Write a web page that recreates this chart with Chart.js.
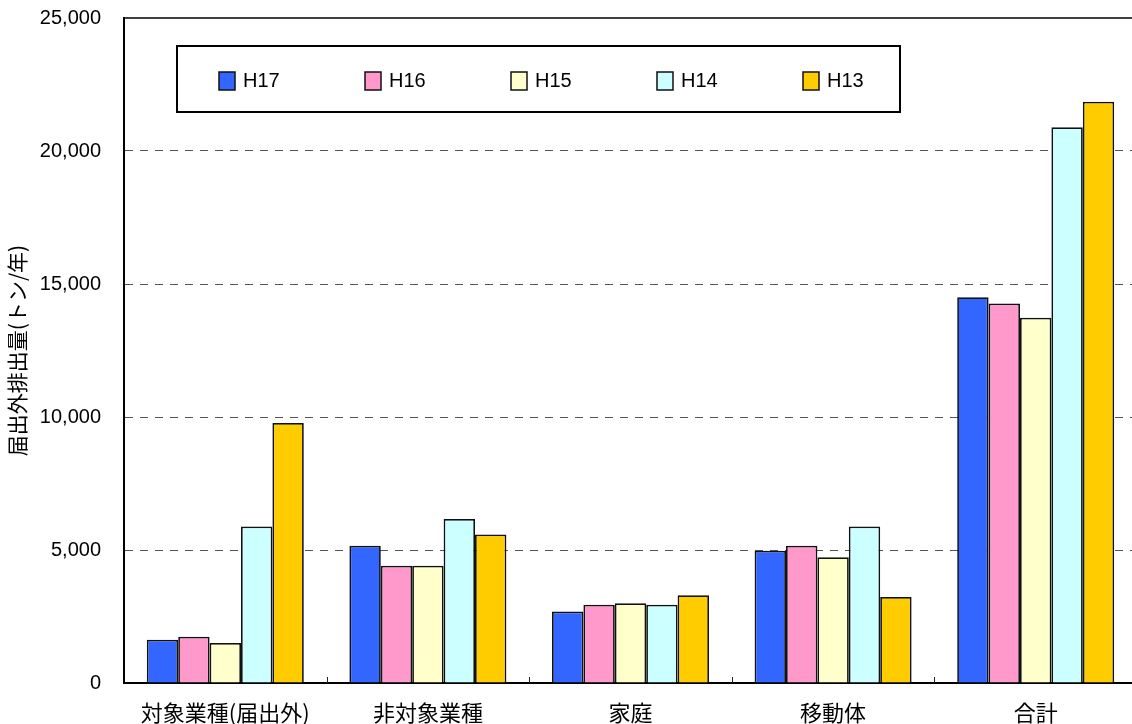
<!DOCTYPE html>
<html>
<head>
<meta charset="utf-8">
<script src="https://cdn.jsdelivr.net/npm/chart.js@4"></script>
<style>
  html, body { margin: 0; padding: 0; background: #fff; overflow: hidden; }
  canvas { display: block; }
</style>
</head>
<body>
<canvas id="c" width="1138" height="724"></canvas>
<script>
// 届出外排出量 by source category, fiscal years H13–H17 (tonnes/year)
const categories = ['対象業種(届出外)', '非対象業種', '家庭', '移動体', '合計'];
const seriesNames = ['H17', 'H16', 'H15', 'H14', 'H13'];
const seriesColors = ['#3366FF', '#FF99CC', '#FFFFCC', '#CCFFFF', '#FFCC00'];

const valuesH17 = [1630, 5160, 2690, 4970, 14500];
const valuesH16 = [1740, 4410, 2940, 5160, 14270];
const valuesH15 = [1500, 4410, 3000, 4730, 13730];
const valuesH14 = [5880, 6170, 2940, 5880, 20890];
const valuesH13 = [9770, 5580, 3300, 3230, 21850];

const yTicks = [0, 5000, 10000, 15000, 20000, 25000];
const yTitle = '届出外排出量(トン/年)';

const seriesValues = [valuesH17, valuesH16, valuesH15, valuesH14, valuesH13];

const numFont = "'Liberation Sans', Arial, sans-serif";
const jpFont = "'Noto Sans CJK JP', sans-serif";

// Boxed legend inside the plot, plus the top frame line and inner category ticks
const framePlugin = {
  id: 'frame',
  afterDraw(chart) {
    const ctx = chart.ctx;
    const area = chart.chartArea;
    const x = chart.scales.x;
    ctx.save();

    // top frame line
    ctx.strokeStyle = '#000';
    ctx.lineWidth = 1.5;
    ctx.beginPath();
    ctx.moveTo(area.left, area.top);
    ctx.lineTo(area.right, area.top);
    ctx.stroke();

    // short upward ticks at category boundaries
    ctx.lineWidth = 1;
    ctx.strokeStyle = '#222';
    for (let i = 1; i < categories.length; i++) {
      const bx = Math.round((x.getPixelForTick(i - 1) + x.getPixelForTick(i)) / 2) + 0.5;
      ctx.beginPath();
      ctx.moveTo(bx, area.bottom);
      ctx.lineTo(bx, area.bottom - 6);
      ctx.stroke();
    }

    // legend box
    const lx = 177, ly = 46, lw = 723, lh = 66;
    ctx.fillStyle = '#fff';
    ctx.fillRect(lx, ly, lw, lh);
    ctx.strokeStyle = '#000';
    ctx.lineWidth = 2;
    ctx.strokeRect(lx, ly, lw, lh);

    ctx.font = '20px ' + numFont;
    ctx.textBaseline = 'middle';
    ctx.textAlign = 'left';
    chart.data.datasets.forEach((ds, i) => {
      const bx = 219 + i * 146;
      ctx.fillStyle = ds.backgroundColor;
      ctx.fillRect(bx, 72, 16, 18);
      ctx.lineWidth = 1.5;
      ctx.strokeStyle = '#111';
      ctx.strokeRect(bx, 72, 16, 18);
      ctx.fillStyle = '#000';
      ctx.fillText(ds.label, bx + 24, 81);
    });
    ctx.restore();
  }
};

new Chart(document.getElementById('c'), {
  type: 'bar',
  data: {
    labels: categories,
    datasets: seriesNames.map((name, i) => ({
      label: name,
      data: seriesValues[i],
      backgroundColor: seriesColors[i],
      borderColor: '#111',
      borderWidth: 1.75,
      categoryPercentage: 0.775,
      barPercentage: 1.0
    }))
  },
  options: {
    responsive: false,
    animation: false,
    layout: { padding: { top: 18, right: 1, left: 0, bottom: 0 } },
    plugins: {
      legend: { display: false },
      tooltip: { enabled: false }
    },
    scales: {
      x: {
        grid: { display: false, drawTicks: false },
        border: { display: true, color: '#000', width: 2 },
        ticks: {
          color: '#000',
          padding: 16,
          maxRotation: 0,
          autoSkip: false,
          font: { family: jpFont, size: 22 }
        },
        afterFit(scale) { scale.height = 41; }
      },
      y: {
        min: 0,
        max: 25000,
        afterBuildTicks(scale) { scale.ticks = yTicks.map(v => ({ value: v })); },
        grid: {
          drawTicks: true,
          tickLength: 23,
          tickColor: 'rgba(0,0,0,0)',
          lineWidth: 1,
          color: c => (c.tick && (c.tick.value === 0 || c.tick.value === 25000)) ? 'rgba(0,0,0,0)' : '#555'
        },
        border: { display: true, color: '#000', width: 2, dash: [8, 7] },
        ticks: {
          color: '#000',
          padding: 0,
          font: { family: numFont, size: 20 },
          callback: v => Number(v).toLocaleString('en-US')
        },
        title: {
          display: true,
          text: yTitle,
          color: '#000',
          padding: { top: 4, bottom: 0 },
          font: { family: jpFont, size: 21 }
        },
        afterFit(scale) { scale.width = 124; }
      }
    }
  },
  plugins: [framePlugin]
});
</script>
</body>
</html>
